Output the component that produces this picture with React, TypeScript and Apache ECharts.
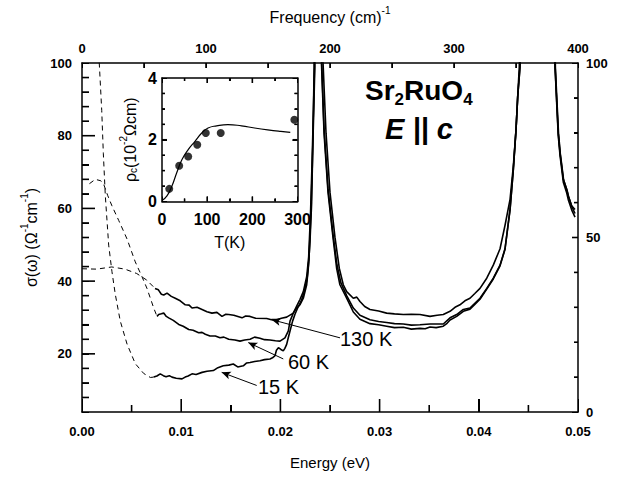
import React, { useEffect, useRef } from 'react';
import * as echarts from 'echarts';

const FONT = '"Liberation Sans", Arial, Helvetica, sans-serif';

// ---- main panel data: [energy (eV), sigma (1/Ohm cm)] ----
const dashed15K = [
  [0.0015, 110], [0.00174, 100], [0.00199, 86.9], [0.00215, 75.2], [0.00235, 63.5], [0.00269, 49.9],
  [0.00302, 42.6], [0.00336, 36.3], [0.00386, 29.0], [0.00454, 22.7], [0.00537, 17.3], [0.00622, 14.6],
  [0.00689, 13.5], [0.00723, 13.6],
];
const solid15K = [
  [0.00723, 13.6], [0.00755, 13.9], [0.00789, 14.5], [0.0082, 14.0], [0.00847, 13.7], [0.0088, 14.0],
  [0.00907, 13.6], [0.0095, 13.3], [0.01008, 13.1], [0.0104, 13.6], [0.0107, 13.9], [0.01109, 14.5],
  [0.0115, 14.3], [0.0121, 14.9], [0.0126, 15.2], [0.01324, 15.4], [0.0137, 16.2], [0.01424, 16.7],
  [0.0148, 16.9], [0.01525, 17.2], [0.0157, 16.4], [0.01626, 16.7], [0.0166, 17.5], [0.01694, 17.6],
  [0.0174, 17.9], [0.01794, 18.1], [0.0184, 18.4], [0.01895, 18.6], [0.0192, 18.9], [0.01946, 19.5],
  [0.0196, 21.0], [0.0198, 21.7], [0.02005, 21.2], [0.02029, 20.8], [0.02045, 21.5], [0.02063, 22.6],
  [0.0208, 24.5], [0.02097, 26.3], [0.02123, 29.0], [0.02147, 30.9], [0.02177, 32.8], [0.02208, 34.4],
  [0.02238, 36.9], [0.02268, 40.4], [0.02288, 45.9], [0.02307, 58.4], [0.02322, 72.0], [0.02335, 85.6],
  [0.02347, 98.9], [0.0238, 400], [0.02414, 100], [0.0244, 80.7], [0.0248, 64.4], [0.0253, 52.1],
  [0.02567, 43.5], [0.026, 39.0], [0.02668, 35.3], [0.02735, 31.5], [0.02802, 29.5], [0.02903, 28.3],
  [0.0299, 28.0], [0.03071, 27.6], [0.0315, 27.2], [0.03239, 27.3], [0.0332, 26.8], [0.03407, 27.0],
  [0.0346, 26.9], [0.03508, 27.4], [0.0357, 27.2], [0.03642, 27.6], [0.0368, 28.4], [0.0371, 29.3],
  [0.03777, 30.3], [0.03844, 31.7], [0.03911, 32.3], [0.0396, 33.6], [0.04012, 35.0], [0.0408, 37.8],
  [0.04146, 40.6], [0.04214, 44.2], [0.04264, 48.7], [0.04315, 59.6], [0.04348, 70.6], [0.04375, 81.5],
  [0.04392, 90.6], [0.04415, 98.8], [0.0459, 400], [0.0477, 98.8], [0.04785, 89.0], [0.04801, 80.0],
  [0.04819, 74.5], [0.04836, 70.8], [0.04852, 67.2], [0.04886, 64.3], [0.04902, 62.4], [0.04936, 59.6],
  [0.0497, 57.6],
];
const dashed60K = [
  [0.00075, 66.8], [0.00134, 68.0], [0.0019, 67.6], [0.00219, 66.6], [0.0026, 63.5], [0.00302, 60.7],
  [0.0037, 56.7], [0.00454, 51.6], [0.00537, 45.3], [0.00605, 41.2], [0.00655, 38.0], [0.00689, 35.3],
  [0.00723, 32.6], [0.00756, 30.3],
];
const solid60K = [
  [0.00756, 30.3], [0.00773, 30.8], [0.008, 31.0], [0.00824, 31.2], [0.0085, 30.3], [0.00874, 29.9],
  [0.0092, 29.2], [0.00975, 28.1], [0.0102, 27.6], [0.01076, 26.7], [0.0112, 26.5], [0.01176, 25.8],
  [0.0121, 25.9], [0.01243, 25.4], [0.0129, 24.9], [0.01344, 24.9], [0.01391, 24.4], [0.0143, 24.6],
  [0.01479, 24.0], [0.01542, 23.8], [0.01593, 23.5], [0.0164, 23.8], [0.01694, 24.0], [0.0174, 24.6],
  [0.01794, 24.3], [0.0184, 23.9], [0.01895, 23.8], [0.0195, 23.6], [0.01996, 23.5], [0.02046, 24.4],
  [0.0208, 26.3], [0.02097, 29.0], [0.0213, 31.2], [0.02164, 33.1], [0.02198, 35.0], [0.02231, 37.1],
  [0.02265, 41.2], [0.02285, 46.7], [0.02304, 58.9], [0.02319, 72.5], [0.02332, 86.1], [0.02344, 98.9],
  [0.0238, 400], [0.02416, 100], [0.0244, 82], [0.0248, 65.5], [0.0253, 53], [0.0257, 44.5],
  [0.0261, 39.5], [0.02668, 36.0], [0.02735, 32.6], [0.02802, 30.6], [0.02903, 29.4], [0.0299, 28.9],
  [0.03071, 28.6], [0.0315, 28.3], [0.03239, 28.2], [0.0332, 27.9], [0.03407, 28.0], [0.03508, 28.2],
  [0.03642, 28.2], [0.0371, 29.9], [0.03777, 30.8], [0.03844, 32.2], [0.03911, 32.6], [0.04012, 35.3],
  [0.0408, 38.0], [0.04146, 40.8], [0.04214, 44.4], [0.04264, 48.9], [0.04315, 59.8], [0.04348, 70.7],
  [0.04375, 81.6], [0.04392, 90.7], [0.04415, 98.8], [0.0459, 400], [0.04772, 98.8], [0.04788, 89.5],
  [0.04804, 80.5], [0.04822, 75.0], [0.04839, 71.3], [0.04855, 67.8], [0.04889, 65.0], [0.04905, 63.2],
  [0.04939, 60.4], [0.0497, 58.6],
];
const dashed130K = [
  [0, 43.4], [0.00148, 43.3], [0.003, 43.9], [0.00433, 43.3], [0.00551, 42.1], [0.00652, 40.3],
  [0.00736, 38.0],
];
const solid130K = [
  [0.00736, 38.0], [0.0077, 37.6], [0.008, 36.4], [0.00824, 36.2], [0.00857, 36.7], [0.009, 35.8],
  [0.0094, 35.3], [0.0099, 34.6], [0.01041, 33.5], [0.0108, 33.4], [0.01109, 32.6], [0.0116, 32.8],
  [0.0121, 32.2], [0.0126, 31.6], [0.0131, 31.2], [0.0136, 31.4], [0.01411, 30.3], [0.0145, 30.9],
  [0.01479, 30.8], [0.0153, 30.6], [0.01613, 29.9], [0.0165, 30.4], [0.01694, 30.3], [0.0175, 29.8],
  [0.01862, 29.7], [0.0191, 29.4], [0.01963, 29.4], [0.0201, 29.8], [0.02063, 30.1], [0.0213, 31.2],
  [0.02164, 32.6], [0.02198, 33.5], [0.02231, 35.3], [0.02265, 39.0], [0.02281, 43.5], [0.02298, 50.7],
  [0.02315, 61.6], [0.02325, 75.2], [0.02334, 88.8], [0.0234, 98.9], [0.0238, 400], [0.0243, 100],
  [0.0246, 80.7], [0.025, 64.4], [0.0255, 52.1], [0.02594, 43.5], [0.02634, 39.0], [0.02668, 37.1],
  [0.02735, 35.3], [0.0277, 35.6], [0.02802, 34.4], [0.0285, 33.0], [0.02903, 32.2], [0.0299, 31.8],
  [0.03071, 31.2], [0.0315, 31.0], [0.03239, 30.8], [0.0332, 30.9], [0.03407, 30.8], [0.03508, 30.3],
  [0.0358, 30.6], [0.03642, 30.8], [0.0371, 31.7], [0.0376, 32.8], [0.0381, 33.5], [0.0386, 34.6],
  [0.03911, 35.3], [0.0396, 36.6], [0.04012, 38.0], [0.0408, 40.8], [0.04146, 44.4], [0.04214, 48.9],
  [0.04264, 55.3], [0.04315, 62.5], [0.04348, 71.6], [0.04375, 81.6], [0.04392, 90.7], [0.04408, 98.8],
  [0.0459, 400], [0.04768, 98.8], [0.04785, 89.7], [0.04801, 80.7], [0.04819, 75.2], [0.04836, 71.6],
  [0.04852, 68.0], [0.04886, 65.3], [0.04902, 63.5], [0.04936, 60.7], [0.0497, 59.7],
];

// annotation arrows: [label start, arrow tip] in data units
const arrow130K = [[0.02601, 24.4], [0.01912, 29.4]];
const arrow60K = [[0.02029, 18.6], [0.01676, 23.1]];
const arrow15K = [[0.01761, 11.3], [0.01408, 14.9]];

// tick values
const leftLabelStep = 20;
const leftMajorTicks = [20, 40, 60, 80];
const leftMinorTicks = [8, 12, 16, 24, 28, 32, 36, 44, 48, 52, 56, 64, 68, 72, 76, 84, 88, 92, 96];
const bottomMajorTicks = [0.01, 0.02, 0.03, 0.04];
const bottomMinorTicks = [0.005, 0.015, 0.025, 0.035, 0.045];
const topTicks = [50, 100, 150, 200, 250, 300, 350];
const rightMajorTicks = [50];
const rightMinorTicks = [10, 20, 30, 40, 60, 70, 80, 90];
const insetXMajorTicks = [100, 200];
const insetXMinorTicks = [50, 150, 250];
const insetYMajorTicks = [2];
const insetYMinorTicks = [0.5, 1, 1.5, 2.5, 3, 3.5];

// ---- inset data: resistivity vs temperature ----
const insetT = [16, 38, 58, 78, 97, 130, 293];
const insetRho = [0.41, 1.16, 1.46, 1.84, 2.22, 2.22, 2.65];
const insetCurveT = [0, 11, 22, 33, 44, 58, 73, 88, 102, 121, 146, 176, 205, 234, 263, 284];
const insetCurveRho = [0.03, 0.18, 0.5, 0.95, 1.35, 1.68, 1.95, 2.22, 2.38, 2.45, 2.49, 2.45, 2.38, 2.32, 2.27, 2.24];

const BLACK = '#000';

// axis ranges
const E_MIN = 0, E_MAX = 0.05, S_MIN = 4, S_MAX = 100, R_MIN = 0, R_MAX = 100, F_MIN = 0, F_MAX = 400;
const T_MIN = 0, T_MAX = 300, RHO_MIN = 0, RHO_MAX = 4;

const tickLabel = (size: number) => ({
  color: BLACK, fontWeight: 'bold' as const, fontSize: size, fontFamily: FONT,
});

const axTick = (len: number) => ({ show: true, inside: true, length: len, lineStyle: { color: BLACK } });
const axMinor = (split: number, len: number) => ({ show: true, splitNumber: split, length: len, lineStyle: { color: BLACK } });

export default function App() {
  const ref = useRef<HTMLDivElement>(null);

  useEffect(() => {
    if (!ref.current) return;
    const chart = echarts.init(ref.current, undefined, { renderer: 'svg' });

    const axisLine = () => ({ show: true, onZero: false, lineStyle: { color: BLACK, width: 1.5 } });
    const supRich = {
      a: { fontSize: 16, fontFamily: FONT, color: BLACK, lineHeight: 20, verticalAlign: 'bottom' },
      sup: { fontSize: 10, fontFamily: FONT, color: BLACK, lineHeight: 12, verticalAlign: 'top' },
      sub: { fontSize: 10, fontFamily: FONT, color: BLACK, lineHeight: 12, verticalAlign: 'bottom' },
    };

    const markArrow = (pts: number[][]) => ({
      silent: true,
      symbol: ['none', 'arrow'],
      symbolSize: [6, 9],
      label: { show: false },
      lineStyle: { color: BLACK, width: 1, type: 'solid' },
      emphasis: { disabled: true },
      data: [[{ coord: pts[0] }, { coord: pts[1] }]],
    });

    const lineSeries = (data: number[][], dashed: boolean, arrow?: number[][]) => ({
      type: 'line',
      xAxisIndex: 0,
      yAxisIndex: 0,
      data,
      symbol: 'none',
      showSymbol: false,
      clip: true,
      silent: true,
      lineStyle: { color: BLACK, width: dashed ? 1 : 1.6, type: dashed ? [5, 4] : 'solid' },
      markLine: arrow ? markArrow(arrow) : undefined,
    });

    const textGraphics: any[] = [
      {
        type: 'text', x: 365, y: 92, z: 100,
        style: {
          text: '{b|Sr}{s|2}{b|RuO}{s|4}', align: 'left', verticalAlign: 'middle',
          rich: {
            b: { fontSize: 28, fontWeight: 'bold', fontFamily: FONT, fill: BLACK, lineHeight: 32, verticalAlign: 'top' },
            s: { fontSize: 17, fontWeight: 'bold', fontFamily: FONT, fill: BLACK, lineHeight: 17, verticalAlign: 'bottom' },
          },
        },
      },
      {
        type: 'text', x: 385, y: 129, z: 100,
        style: { text: 'E || c', align: 'left', verticalAlign: 'middle', fill: BLACK, font: `italic bold 29px ${FONT}` },
      },
      { type: 'text', x: 340, y: 339, z: 100, style: { text: '130 K', align: 'left', verticalAlign: 'middle', fill: BLACK, font: `20px ${FONT}` } },
      { type: 'text', x: 288, y: 362, z: 100, style: { text: '60 K', align: 'left', verticalAlign: 'middle', fill: BLACK, font: `20px ${FONT}` } },
      { type: 'text', x: 258, y: 387, z: 100, style: { text: '15 K', align: 'left', verticalAlign: 'middle', fill: BLACK, font: `20px ${FONT}` } },
    ];

    const option: any = {
      animation: false,
      grid: [
        { left: 82, top: 59, width: 496, height: 353, show: false },
        { left: 162, top: 78, width: 135.5, height: 123.5, show: false },
      ],
      xAxis: [
        {
          gridIndex: 0, type: 'value', position: 'bottom', min: E_MIN, max: E_MAX, interval: 0.01,
          axisLine: axisLine(), axisTick: axTick(13), minorTick: axMinor(2, 7), splitLine: { show: false },
          axisLabel: { ...tickLabel(13), margin: 13, formatter: (v: any) => Number(v).toFixed(2) },
          name: 'Energy (eV)', nameLocation: 'middle', nameGap: 43,
          nameTextStyle: { fontSize: 15, color: BLACK, fontFamily: FONT },
        },
        {
          gridIndex: 0, type: 'value', position: 'top', min: F_MIN, max: F_MAX, interval: 100,
          axisLine: axisLine(), axisTick: axTick(5), minorTick: axMinor(2, 5), splitLine: { show: false },
          axisLabel: { ...tickLabel(13), margin: 8 },
          name: '{a|Frequency (cm)}{sup|-1}', nameLocation: 'middle', nameGap: 38,
          nameTextStyle: { rich: supRich },
        },
        {
          gridIndex: 1, type: 'value', position: 'bottom', min: T_MIN, max: T_MAX, interval: 100,
          axisLine: axisLine(), axisTick: axTick(5), minorTick: axMinor(2, 3), splitLine: { show: false },
          axisLabel: { ...tickLabel(16), margin: 10 },
          name: 'T(K)', nameLocation: 'middle', nameGap: 33,
          nameTextStyle: { fontSize: 16, color: BLACK, fontFamily: FONT },
        },
        {
          gridIndex: 1, type: 'value', position: 'top', min: T_MIN, max: T_MAX, interval: 100,
          axisLine: axisLine(), axisTick: axTick(5), minorTick: axMinor(2, 3), splitLine: { show: false },
          axisLabel: { show: false },
        },
      ],
      yAxis: [
        {
          gridIndex: 0, type: 'value', position: 'left', min: S_MIN, max: S_MAX, interval: 4,
          axisLine: axisLine(), axisTick: axTick(7), splitLine: { show: false },
          axisLabel: {
            ...tickLabel(13), margin: 10,
            formatter: (v: any) => (Math.abs(Number(v) % leftLabelStep) < 1e-6 ? String(v) : ''),
          },
          name: '{a|σ(ω) (Ω}{sup|-1}{a|cm}{sup|-1}{a|)}', nameLocation: 'middle', nameGap: 40, nameRotate: 90,
          nameTextStyle: { rich: supRich },
        },
        {
          gridIndex: 0, type: 'value', position: 'right', min: R_MIN, max: R_MAX, interval: 50,
          axisLine: axisLine(), axisTick: axTick(6), minorTick: axMinor(5, 4), splitLine: { show: false },
          axisLabel: { ...tickLabel(13), margin: 8 },
        },
        {
          gridIndex: 1, type: 'value', position: 'left', min: RHO_MIN, max: RHO_MAX, interval: 2,
          axisLine: axisLine(), axisTick: axTick(5), minorTick: axMinor(4, 3), splitLine: { show: false },
          axisLabel: { ...tickLabel(16), margin: 5 },
          name: '{a|ρ}{sub|c}{a|(10}{sup|-2}{a|Ωcm)}', nameLocation: 'middle', nameGap: 24, nameRotate: 90,
          nameTextStyle: { rich: supRich },
        },
        {
          gridIndex: 1, type: 'value', position: 'right', min: RHO_MIN, max: RHO_MAX, interval: 2,
          axisLine: axisLine(), axisTick: axTick(5), minorTick: axMinor(4, 3), splitLine: { show: false },
          axisLabel: { show: false },
        },
      ],
      series: [
        lineSeries(dashed130K, true),
        lineSeries(solid130K, false, arrow130K),
        lineSeries(dashed60K, true),
        lineSeries(solid60K, false, arrow60K),
        lineSeries(dashed15K, true),
        lineSeries(solid15K, false, arrow15K),
        {
          type: 'line', xAxisIndex: 2, yAxisIndex: 2, smooth: true, symbol: 'none', silent: true,
          data: insetCurveT.map((t, i) => [t, insetCurveRho[i]]),
          lineStyle: { color: BLACK, width: 1.2 },
        },
        {
          type: 'scatter', xAxisIndex: 2, yAxisIndex: 2, symbol: 'circle', symbolSize: 8, silent: true,
          data: insetT.map((t, i) => [t, insetRho[i]]),
          itemStyle: { color: BLACK },
        },
      ],
      graphic: textGraphics,
    };

    chart.setOption(option);

    // Extra tick marks positioned through the chart's own axis scales (convertToPixel).
    const W = 1.6;
    const cx = (i: number, v: number) => chart.convertToPixel({ xAxisIndex: i } as any, v) as unknown as number;
    const cy = (i: number, v: number) => chart.convertToPixel({ yAxisIndex: i } as any, v) as unknown as number;
    const rect = (x: number, y: number, w: number, h: number) => ({
      type: 'rect', silent: true, z: 50,
      shape: { x, y, width: w, height: h },
      style: { fill: BLACK, stroke: null },
    });
    const ticks: any[] = [];
    const addX = (xi: number, vals: number[], edgeY: number, len: number, down: boolean) => {
      vals.forEach((v) => {
        const x = cx(xi, v);
        if (!isFinite(x)) return;
        ticks.push(rect(x - W / 2, down ? edgeY : edgeY - len, W, len));
      });
    };
    const addY = (yi: number, vals: number[], edgeX: number, len: number, right: boolean) => {
      vals.forEach((v) => {
        const y = cy(yi, v);
        if (!isFinite(y)) return;
        ticks.push(rect(right ? edgeX : edgeX - len, y - W / 2, len, W));
      });
    };
    const mainBottom = cy(0, S_MIN), mainTop = cy(0, S_MAX), mainLeft = cx(0, E_MIN), mainRight = cx(0, E_MAX);
    const inBottom = cy(2, RHO_MIN), inTop = cy(2, RHO_MAX), inLeft = cx(2, T_MIN), inRight = cx(2, T_MAX);

    addX(0, bottomMajorTicks, mainBottom, 13, false);
    addX(0, bottomMinorTicks, mainBottom, 7, false);
    addX(1, topTicks, mainTop, 5, true);
    addY(0, leftMajorTicks, mainLeft, 13, true);
    addY(0, leftMinorTicks, mainLeft, 7, true);
    addY(1, rightMajorTicks, mainRight, 6, false);
    addY(1, rightMinorTicks, mainRight, 4, false);
    addX(2, insetXMajorTicks, inBottom, 5, false);
    addX(2, insetXMinorTicks, inBottom, 3, false);
    addX(2, insetXMajorTicks, inTop, 5, true);
    addX(2, insetXMinorTicks, inTop, 3, true);
    addY(2, insetYMajorTicks, inLeft, 5, true);
    addY(2, insetYMinorTicks, inLeft, 3, true);
    addY(2, insetYMajorTicks, inRight, 5, false);
    addY(2, insetYMinorTicks, inRight, 3, false);

    chart.setOption({ graphic: [...textGraphics, ...ticks] });

    return () => chart.dispose();
  }, []);

  return (
    <div
      ref={ref}
      style={{ position: 'absolute', left: 0, top: 0, width: 630, height: 480, background: '#fff' }}
    />
  );
}
